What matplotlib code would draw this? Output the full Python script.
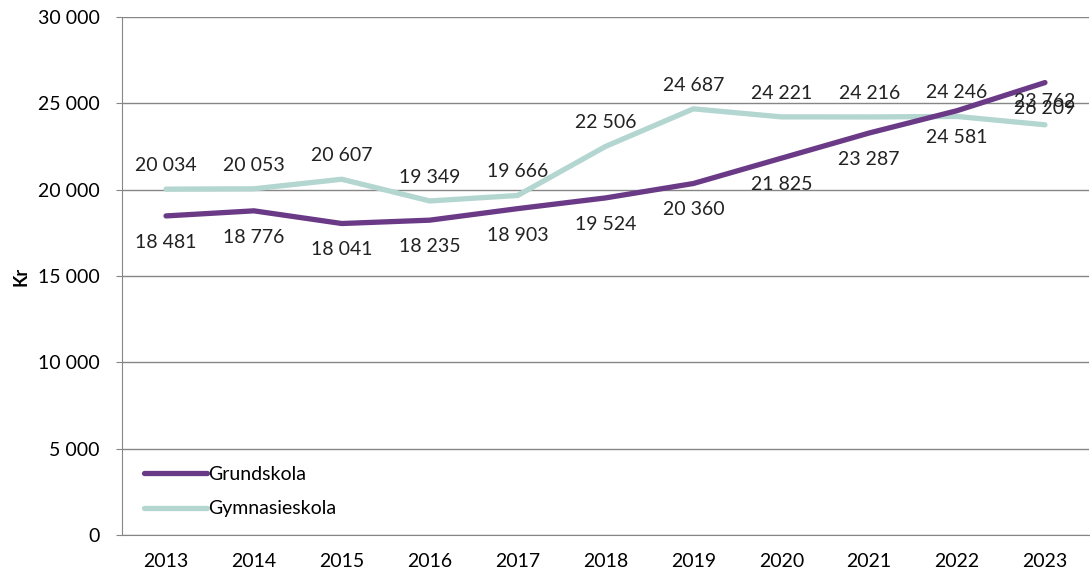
import matplotlib.pyplot as plt

years = ['2013', '2014', '2015', '2016', '2017', '2018', '2019', '2020', '2021', '2022', '2023']
grundskola = [18481, 18776, 18041, 18235, 18903, 19524, 20360, 21825, 23287, 24581, 26209]
gymnasieskola = [20034, 20053, 20607, 19349, 19666, 22506, 24687, 24221, 24216, 24246, 23762]

purple = '#6b3a87'
teal = '#b3d6d0'
gray = '#868686'

def fmt(v):
    return f'{v:,}'.replace(',', ' ')

plt.rcParams['font.family'] = ['Lato', 'DejaVu Sans']

fig = plt.figure(figsize=(10.9, 5.72), dpi=100)
ax = fig.add_axes([0.112, 0.065, 0.887, 0.905])

x = list(range(len(years)))
ax.plot(x, grundskola, color=purple, lw=3.8, solid_capstyle='round', label='Grundskola', zorder=3)
ax.plot(x, gymnasieskola, color=teal, lw=3.8, solid_capstyle='round', label='Gymnasieskola', zorder=2)

for i in x:
    ax.annotate(fmt(gymnasieskola[i]), (i, gymnasieskola[i]), xytext=(0, 17), textcoords='offset points',
                ha='center', va='center', fontsize=14, color='#222222')
    ax.annotate(fmt(grundskola[i]), (i, grundskola[i]), xytext=(0, -19), textcoords='offset points',
                ha='center', va='center', fontsize=14, color='#222222')

ax.set_xlim(-0.5, len(years) - 0.5)
ax.set_ylim(0, 30000)
ax.set_yticks(range(0, 30001, 5000))
ax.set_yticklabels([fmt(v) for v in range(0, 30001, 5000)], fontsize=14)
ax.set_xticks(x)
ax.set_xticklabels(years, fontsize=14)
ax.tick_params(axis='x', length=0, pad=13)
ax.tick_params(axis='y', length=4, color=gray, pad=12)
ax.grid(axis='y', color=gray, lw=1)
ax.set_axisbelow(True)
for s in ['top', 'right']:
    ax.spines[s].set_visible(False)
for s in ['left', 'bottom']:
    ax.spines[s].set_color(gray)
ax.set_ylabel('Kr', fontsize=13, fontweight='bold', labelpad=6)

ax.legend(loc='lower left', bbox_to_anchor=(0.005, 0.0), frameon=False, fontsize=14,
          handlelength=3.2, handletextpad=0.1, labelspacing=0.9)

fig.savefig('out.png', dpi=100)
